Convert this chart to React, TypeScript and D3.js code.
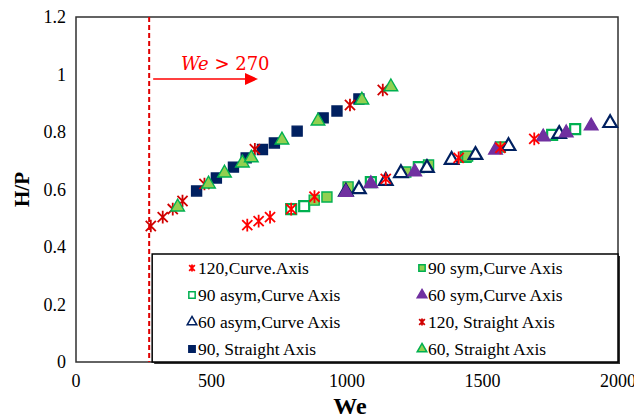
import * as d3 from "d3";

const W = 634;
const H = 419;

// [We, H/P]
const curve120 = [
  [632, 0.476], [674, 0.49], [716, 0.504], [794, 0.532], [880, 0.575],
  [1143, 0.637], [1412, 0.71], [1566, 0.745], [1691, 0.776],
];
const asym90 = [
  [794, 0.532], [842, 0.542], [1088, 0.626], [1265, 0.678], [1438, 0.713],
  [1757, 0.79], [1842, 0.81],
];
const sym90 = [
  [879, 0.563], [926, 0.574], [1004, 0.609], [1217, 0.661], [1301, 0.685],
  [1445, 0.716], [1566, 0.748],
];
const sym60 = [
  [996, 0.59], [1088, 0.62], [1250, 0.661], [1548, 0.737], [1724, 0.783],
  [1809, 0.797], [1901, 0.821],
];
const asym60 = [
  [996, 0.592], [1044, 0.601], [1143, 0.63], [1199, 0.657], [1295, 0.675],
  [1386, 0.703], [1474, 0.72], [1596, 0.751], [1783, 0.793], [1971, 0.831],
];
const straight120 = [
  [276, 0.473], [320, 0.504], [357, 0.532], [393, 0.56], [474, 0.619],
  [660, 0.74], [1011, 0.894], [1132, 0.946],
];
const straight90 = [
  [445, 0.595], [518, 0.64], [581, 0.678], [628, 0.71], [688, 0.739],
  [732, 0.762], [816, 0.803], [912, 0.849], [963, 0.873], [1044, 0.915],
];
const straight60 = [
  [375, 0.539], [489, 0.619], [548, 0.657], [614, 0.692], [647, 0.71],
  [760, 0.772], [893, 0.838], [1055, 0.911], [1162, 0.957],
];

const xTicks = [0, 500, 1000, 1500, 2000];
const yTicks = [0, 0.2, 0.4, 0.6, 0.8, 1, 1.2];
const threshold = 270;

type Marker = { shape: "star" | "square" | "triangle"; fill: string; stroke: string };

const series: { name: string; data: number[][]; m: Marker }[] = [
  { name: "120,Curve.Axis", data: curve120, m: { shape: "star", fill: "none", stroke: "#FF0000" } },
  { name: "90 sym,Curve Axis", data: sym90, m: { shape: "square", fill: "#92D050", stroke: "#00B050" } },
  { name: "90 asym,Curve Axis", data: asym90, m: { shape: "square", fill: "#ffffff", stroke: "#00B050" } },
  { name: "60 sym,Curve Axis", data: sym60, m: { shape: "triangle", fill: "#7030A0", stroke: "#7030A0" } },
  { name: "60 asym,Curve Axis", data: asym60, m: { shape: "triangle", fill: "#ffffff", stroke: "#002060" } },
  { name: "120, Straight Axis", data: straight120, m: { shape: "star", fill: "none", stroke: "#D00000" } },
  { name: "90, Straight Axis", data: straight90, m: { shape: "square", fill: "#002060", stroke: "#002060" } },
  { name: "60, Straight Axis", data: straight60, m: { shape: "triangle", fill: "#92D050", stroke: "#00B050" } },
];

// draw order (lower branch first, straight on top)
const drawOrder = [2, 1, 4, 3, 0, 6, 5, 7];

// Excel-style star: an X plus a vertical stroke
const symbolStar = {
  draw(ctx: any, size: number) {
    const r = Math.sqrt(size) / 2;
    const a = r * 0.8;
    ctx.moveTo(-a, -a);
    ctx.lineTo(a, a);
    ctx.moveTo(-a, a);
    ctx.lineTo(a, -a);
    ctx.moveTo(0, -r);
    ctx.lineTo(0, r);
  },
};

function markerPath(shape: Marker["shape"], size: number) {
  const t = shape === "star" ? symbolStar : shape === "square" ? d3.symbolSquare : d3.symbolTriangle;
  return d3.symbol().type(t as any).size(size)()!;
}

const FONT = "Liberation Serif, Times New Roman, serif";

export default function App() {
  const left = 76;
  const right = 618;
  const top = 17;
  const bottom = 362;

  const x = d3.scaleLinear().domain([0, 2000]).range([left, right]);
  const y = d3.scaleLinear().domain([0, 1.2]).range([bottom, top]);

  const sizeOf = (s: Marker["shape"]) => (s === "star" ? 160 : s === "square" ? 100 : 80);
  const swOf = (m: Marker) => (m.shape === "star" ? 1.8 : m.fill === "#ffffff" ? 2.2 : 1.4);

  const legX = x(threshold) + 3;
  const legTop = 254;
  const rowYs = [268, 295, 322, 349];
  const tf = { fontFamily: FONT };

  return (
    <div style={{ position: "fixed", left: 0, top: 0 }}>
      <svg width={W} height={H} style={{ display: "block", background: "#fff" }}>
        {/* plot frame */}
        <rect x={left} y={top} width={right - left} height={bottom - top} fill="none" stroke="#303030" strokeWidth={1.5} />

        {yTicks.map((t) => (
          <text key={t} x={left - 10} y={y(t) + 6} textAnchor="end" fontSize={18} fill="#000" style={tf}>
            {d3.format("~g")(t)}
          </text>
        ))}
        {xTicks.map((t) => (
          <text key={t} x={x(t)} y={bottom + 25} textAnchor="middle" fontSize={18} fill="#000" style={tf}>
            {t}
          </text>
        ))}

        <text x={(left + right) / 2 + 3} y={414} textAnchor="middle" fontSize={24} fontWeight="bold" style={tf}>
          We
        </text>
        <text
          transform={`translate(${29},${(top + bottom) / 2}) rotate(-90)`}
          textAnchor="middle"
          fontSize={21}
          fontWeight="bold"
          style={tf}
        >
          H/P
        </text>

        {drawOrder.map((si) => {
          const s = series[si];
          return (
            <g key={s.name}>
              {s.data.map((d, i) => (
                <path
                  key={i}
                  d={markerPath(s.m.shape, sizeOf(s.m.shape))}
                  transform={`translate(${x(d[0])},${y(d[1])})`}
                  fill={s.m.fill}
                  stroke={s.m.stroke}
                  strokeWidth={swOf(s.m)}
                />
              ))}
            </g>
          );
        })}

        {/* legend with shadow */}
        <rect x={legX + 2} y={legTop + 2} width={right - legX} height={bottom - legTop} fill="#333" />
        <rect x={legX} y={legTop} width={right - legX} height={bottom - legTop} fill="#fff" stroke="#000" strokeWidth={1.5} />
        {series.map((s, i) => {
          const col = i % 2;
          const row = Math.floor(i / 2);
          const mx = col === 0 ? 192 : 422;
          const my = rowYs[row];
          return (
            <g key={s.name}>
              <path
                d={markerPath(s.m.shape, s.m.shape === "star" ? 50 : 40)}
                transform={`translate(${mx},${my})`}
                fill={s.m.fill}
                stroke={s.m.stroke}
                strokeWidth={s.m.shape === "star" ? 1.8 : 1.5}
              />
              <text x={mx + 6} y={my + 6} fontSize={17.5} fill="#000" style={tf}>
                {s.name}
              </text>
            </g>
          );
        })}

        <line x1={x(threshold)} x2={x(threshold)} y1={top} y2={bottom} stroke="#E00000" strokeWidth={2} strokeDasharray="5,3" />

        <text x={181} y={70} fontSize={18} fill="#FF0000" style={{ fontFamily: "DejaVu Serif, serif" }}>
          <tspan fontStyle="italic">We</tspan>
          <tspan> &gt; 270</tspan>
        </text>
        <line x1={x(threshold) + 4} x2={247} y1={79} y2={79} stroke="#FF0000" strokeWidth={1.5} />
        <path d="M245,73 L258,79 L245,85 Z" fill="#FF0000" />
      </svg>
    </div>
  );
}
